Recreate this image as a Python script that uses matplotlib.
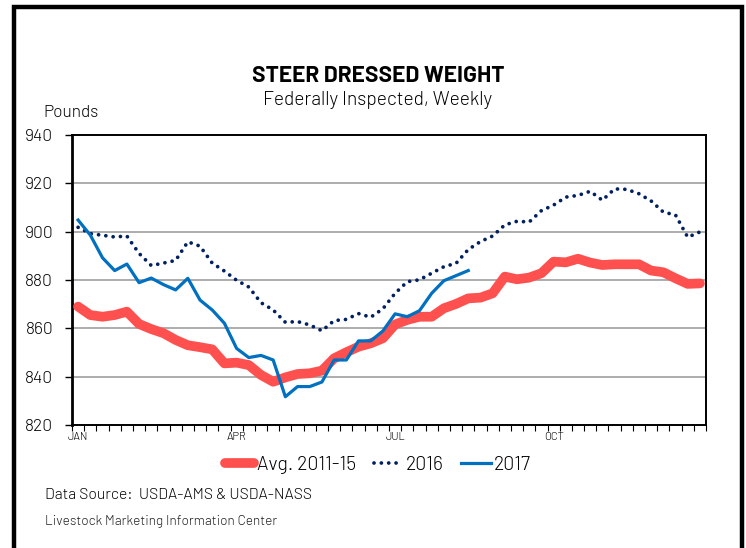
import matplotlib
matplotlib.use("Agg")
import matplotlib.pyplot as plt
from matplotlib.patches import Rectangle
from matplotlib.ticker import FixedLocator

plt.rcParams['font.family'] = ['Barlow', 'DejaVu Sans']
plt.rcParams['font.weight'] = 300

# weekly data, 52 weeks
avg_2011_15 = [869.0, 865.5, 864.8, 865.5, 866.9, 861.8, 859.7, 858.0, 855.2, 853.0,
               852.2, 851.3, 845.5, 845.8, 844.8, 840.7, 837.9, 839.7, 841.1, 841.4,
               842.5, 847.6, 850.1, 852.4, 853.8, 855.9, 861.6, 863.5, 864.8, 864.8,
               868.3, 870.1, 872.4, 872.7, 874.5, 881.4, 880.3, 881.0, 882.8, 887.6,
               887.3, 888.8, 887.2, 886.2, 886.5, 886.5, 886.5, 883.9, 883.2, 880.7,
               878.4, 878.6]
y2016 = [901.8, 899.2, 898.5, 897.8, 898.2, 891.0, 886.0, 887.0, 888.1, 895.8,
         894.0, 887.0, 883.7, 879.9, 877.1, 870.6, 867.6, 862.5, 862.8, 861.4,
         859.0, 863.2, 863.7, 866.1, 864.6, 868.1, 874.5, 879.3, 880.1, 882.8,
         885.5, 886.9, 892.6, 895.9, 898.2, 902.8, 904.3, 904.0, 908.7, 911.0,
         914.3, 915.0, 916.7, 913.0, 917.7, 917.5, 915.7, 912.7, 908.1, 906.9,
         897.7, 899.9]
y2017 = [904.8, 898.6, 889.2, 883.9, 886.6, 878.9, 880.8, 878.1, 875.9, 880.7,
         871.7, 867.6, 862.1, 851.7, 847.9, 848.8, 846.9, 831.7, 835.9, 835.9,
         837.8, 846.9, 846.9, 854.8, 854.8, 858.9, 866.0, 864.8, 867.3, 874.5,
         879.7, 881.8, 883.9]
month_labels = ['JAN', 'APR', 'JUL', 'OCT']
month_weeks = [0, 13, 26, 39]
y_ticks = [820, 840, 860, 880, 900, 920, 940]

fig = plt.figure(figsize=(7.46, 5.48), dpi=100)
ax = fig.add_axes([72 / 746, 1 - 425 / 548, (706 - 72) / 746, (425 - 135) / 548])

weeks = list(range(len(avg_2011_15)))
l1, = ax.plot(weeks, avg_2011_15, color='#FF5050', lw=7, solid_capstyle='round',
              solid_joinstyle='round', label='Avg. 2011-15', zorder=3)
l2, = ax.plot(weeks, y2016, color='#002060', lw=2.7, linestyle=(0, (0.01, 1.95)),
              dash_capstyle='round', label='2016', zorder=4)
l3, = ax.plot(list(range(len(y2017))), y2017, color='#0070C0', lw=2.3,
              solid_joinstyle='round', label='2017', zorder=5)

ax.set_xlim(-0.5, 51.5)
ax.set_ylim(820, 940)
ax.set_yticks(y_ticks)
ax.set_yticklabels([str(v) for v in y_ticks], fontsize=12.5)
for v in y_ticks[1:-1]:
    ax.axhline(v, color='#A6A6A6', lw=1.3, zorder=1)

ax.set_xticks(month_weeks)
ax.set_xticklabels(month_labels, fontsize=8)
ax.tick_params(axis='x', which='major', length=0, pad=5)
ax.xaxis.set_minor_locator(FixedLocator([k - 0.5 for k in range(53)]))
ax.tick_params(axis='x', which='minor', length=4, width=0.8, direction='out')
ax.tick_params(axis='y', length=5, width=1.0, direction='out', pad=8.5)
for s in ax.spines.values():
    s.set_linewidth(1.4)
ax.spines['left'].set_linewidth(2)

fig.text(378 / 746, 1 - 76 / 548, 'STEER DRESSED WEIGHT', ha='center', va='center',
         fontsize=16.3, fontweight='bold')
fig.text(378 / 746, 1 - 100 / 548, 'Federally Inspected, Weekly', ha='center', va='center',
         fontsize=13.8)
fig.text(43 / 746, 1 - 113 / 548, 'Pounds', ha='left', va='center', fontsize=12.4)

fig.legend(handles=[l1, l2, l3], loc='center', bbox_to_anchor=(378 / 746, 1 - 465 / 548),
           ncol=3, frameon=False, fontsize=14, handlelength=1.5, handletextpad=0.15,
           columnspacing=0.9)

fig.text(45 / 746, 1 - 495 / 548, 'Data Source:  USDA-AMS & USDA-NASS', ha='left',
         va='center', fontsize=11.3)
fig.text(45 / 746, 1 - 522 / 548, 'Livestock Marketing Information Center', ha='left',
         va='center', fontsize=9.8, color='#222222')

fig.patches.append(Rectangle((14 / 746, -0.05), (742 - 14) / 746, 1.05 - 7 / 548,
                             transform=fig.transFigure, fill=False, edgecolor='black',
                             lw=3.2, clip_on=False))

fig.savefig('out.png', dpi=100)
